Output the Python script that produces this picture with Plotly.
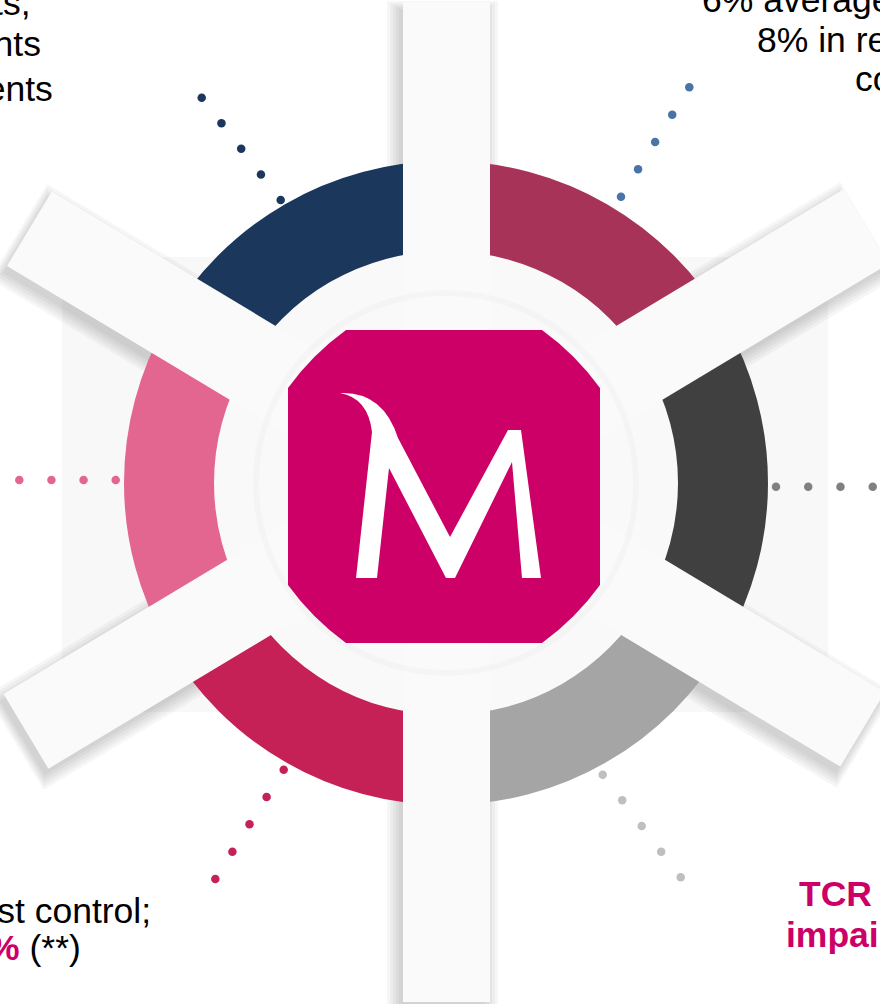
import math
import plotly.graph_objects as go

# ---------------- data ----------------
# donut segments, clockwise from 12 o'clock
segments = ["Profitability", "Growth", "Capital", "Efficiency", "Franchise", "Clients"]
seg_values = [1, 1, 1, 1, 1, 1]
seg_colors = ["#a83358", "#404040", "#a5a5a5", "#c62156", "#e2668f", "#1b375c"]

# text blocks (only parts are visible in the crop)
tl_lines = ["Over 2.6 million active clients,", "1.8 million digital clients", "1.5 million mobile clients"]
tr_lines = ["6% average annual growth", "8% in retail deposits", "costs"]
bl_line1 = "Strict cost control;"
bl_bold = "C/I ≈ 40%"
bl_tail = " (**)"
br_lines = ["TCR above 19%", "impairment"]

# ---------------- layout constants ----------------
W, H = 880, 1004
CX, CY = 446, 483
R_OUT, R_IN = 322, 232
PINK = "#cc0066"
FONT = "Liberation Sans, Arial, sans-serif"
FS = 35.5

fig = go.Figure()

# donut
fig.add_trace(go.Pie(
    labels=segments, values=seg_values, sort=False, direction="clockwise", rotation=0,
    hole=R_IN / R_OUT, marker=dict(colors=seg_colors, line=dict(width=0)),
    textinfo="none", hoverinfo="label", showlegend=False,
    domain=dict(x=[(CX - R_OUT) / W, (CX + R_OUT) / W],
                y=[1 - (CY + R_OUT) / H, 1 - (CY - R_OUT) / H]),
))

# dotted leaders: (start, end, count, colour)
leaders = [
    ((280.7, 200.0), (201.7, 97.7), 5, "#1b375c"),
    ((621.0, 196.7), (689.3, 87.3), 5, "#4a73a8"),
    ((115.7, 480.0), (19.3, 480.0), 4, "#e2668f"),
    ((776.0, 486.7), (872.7, 486.7), 4, "#808080"),
    ((283.7, 769.7), (215.3, 879.0), 5, "#c62156"),
    ((602.7, 774.7), (680.7, 877.3), 5, "#bfbfbf"),
]
for (x0, y0), (x1, y1), n, col in leaders:
    xs = [x0 + (x1 - x0) * i / (n - 1) for i in range(n)]
    ys = [y0 + (y1 - y0) * i / (n - 1) for i in range(n)]
    fig.add_trace(go.Scatter(x=xs, y=ys, mode="markers", hoverinfo="skip", showlegend=False,
                             marker=dict(size=8.5, color=col, line=dict(width=0))))


def bar_path(cx, cy, ang, half_len, half_w, ox=0.0, oy=0.0):
    a = math.radians(ang)
    dx, dy = math.cos(a), -math.sin(a)
    nx, ny = -dy, dx
    pts = [
        (cx + dx * half_len + nx * half_w, cy + dy * half_len + ny * half_w),
        (cx + dx * half_len - nx * half_w, cy + dy * half_len - ny * half_w),
        (cx - dx * half_len - nx * half_w, cy - dy * half_len - ny * half_w),
        (cx - dx * half_len + nx * half_w, cy - dy * half_len + ny * half_w),
    ]
    return "M " + " L ".join(f"{x + ox:.1f},{y + oy:.1f}" for x, y in pts) + " Z"


bars = [  # (cx, cy, angle, half length, half width)
    (446.5, 502, 90, 500, 43.5),
    (446, 479, 31, 490, 43.5),
    (446, 479, 149, 486, 43.5),
]

shapes = []
# faint backdrop rectangle
shapes.append(dict(type="rect", xref="x", yref="y", x0=62, x1=828, y0=257, y1=712,
                   fillcolor="#f8f8f8", line=dict(width=0), layer="below"))
# bar shadows (below the donut)
for b in bars:
    for k in range(5):
        shapes.append(dict(type="path", xref="x", yref="y",
                           path=bar_path(b[0], b[1], b[2], b[3] + 2 * k, b[4] + 3 * k, -4, 7),
                           fillcolor="rgba(0,0,0,0.035)", line=dict(width=0), layer="below"))
# hole fill
shapes.append(dict(type="circle", xref="x", yref="y", x0=CX - R_IN, x1=CX + R_IN,
                   y0=CY - R_IN, y1=CY + R_IN, fillcolor="#f9f9f9", line=dict(width=0), layer="below"))
# bars above donut
for b in bars:
    shapes.append(dict(type="path", xref="x", yref="y", path=bar_path(*b),
                       fillcolor="#fafafa", line=dict(width=0), layer="above"))
# subtle inner ring around the logo
shapes.append(dict(type="circle", xref="x", yref="y", x0=CX - 190, x1=CX + 190,
                   y0=CY - 190, y1=CY + 190, fillcolor="rgba(0,0,0,0)",
                   line=dict(color="rgba(0,0,0,0.018)", width=6), layer="above"))

# pink logo tile
x0, y0, x1, y1, c, k = 288, 330, 600, 643, 58, 0.42
tile = (f"M {x0+c},{y0} L {x1-c},{y0} Q {x1-k*c},{y0+k*c} {x1},{y0+c} "
        f"L {x1},{y1-c} Q {x1-k*c},{y1-k*c} {x1-c},{y1} "
        f"L {x0+c},{y1} Q {x0+k*c},{y1-k*c} {x0},{y1-c} "
        f"L {x0},{y0+c} Q {x0+k*c},{y0+k*c} {x0+c},{y0} Z")
shapes.append(dict(type="path", xref="x", yref="y", path=tile, fillcolor=PINK,
                   line=dict(width=0), layer="above"))
# M logo glyph
logo = ("M 356,578 L 372,432 Q 368,398 340,393 Q 383,391 398,438 L 450,537 L 508,430 "
        "L 521,430 L 541,578 L 522,578 L 512,462 L 455,578 L 446,578 L 389,468 L 377,578 Z")
shapes.append(dict(type="path", xref="x", yref="y", path=logo, fillcolor="white",
                   line=dict(width=0), layer="above"))

# ---------------- text (paper coordinates so off-edge lines still render) ----------------
ann = []


def add_text(txt, x, baseline, anchor, bold=False, color="black"):
    t = f"<b>{txt}</b>" if bold else txt
    ann.append(dict(x=x / W, y=1 - (baseline - 12.3) / H, xref="paper", yref="paper", text=t,
                    showarrow=False, xanchor=anchor, yanchor="middle",
                    font=dict(family=FONT, size=FS, color=color)))


add_text(tl_lines[0], 33, 15, "right")
add_text(tl_lines[1], 43, 56, "right")
add_text(tl_lines[2], 55, 101, "right")
add_text(tr_lines[0], 700, 12, "left")
add_text(tr_lines[1], 755, 52, "left")
add_text(tr_lines[2], 853, 91, "left")
add_text(bl_line1, 153, 923, "right")
add_text(f"<b><span style='color:{PINK}'>{bl_bold}</span></b>{bl_tail}", 83, 960, "right")
add_text(br_lines[0], 797, 906, "left", bold=True, color=PINK)
add_text(br_lines[1], 784, 947, "left", bold=True, color=PINK)

fig.update_layout(
    width=W, height=H, margin=dict(l=0, r=0, t=0, b=0),
    paper_bgcolor="white", plot_bgcolor="white",
    xaxis=dict(range=[0, W], visible=False, fixedrange=True),
    yaxis=dict(range=[H, 0], visible=False, fixedrange=True),
    shapes=shapes, annotations=ann, showlegend=False,
)
fig.write_html("out.html", config={"displayModeBar": False},
               post_script="document.body.style.margin='0';document.documentElement.style.overflow='hidden';")
